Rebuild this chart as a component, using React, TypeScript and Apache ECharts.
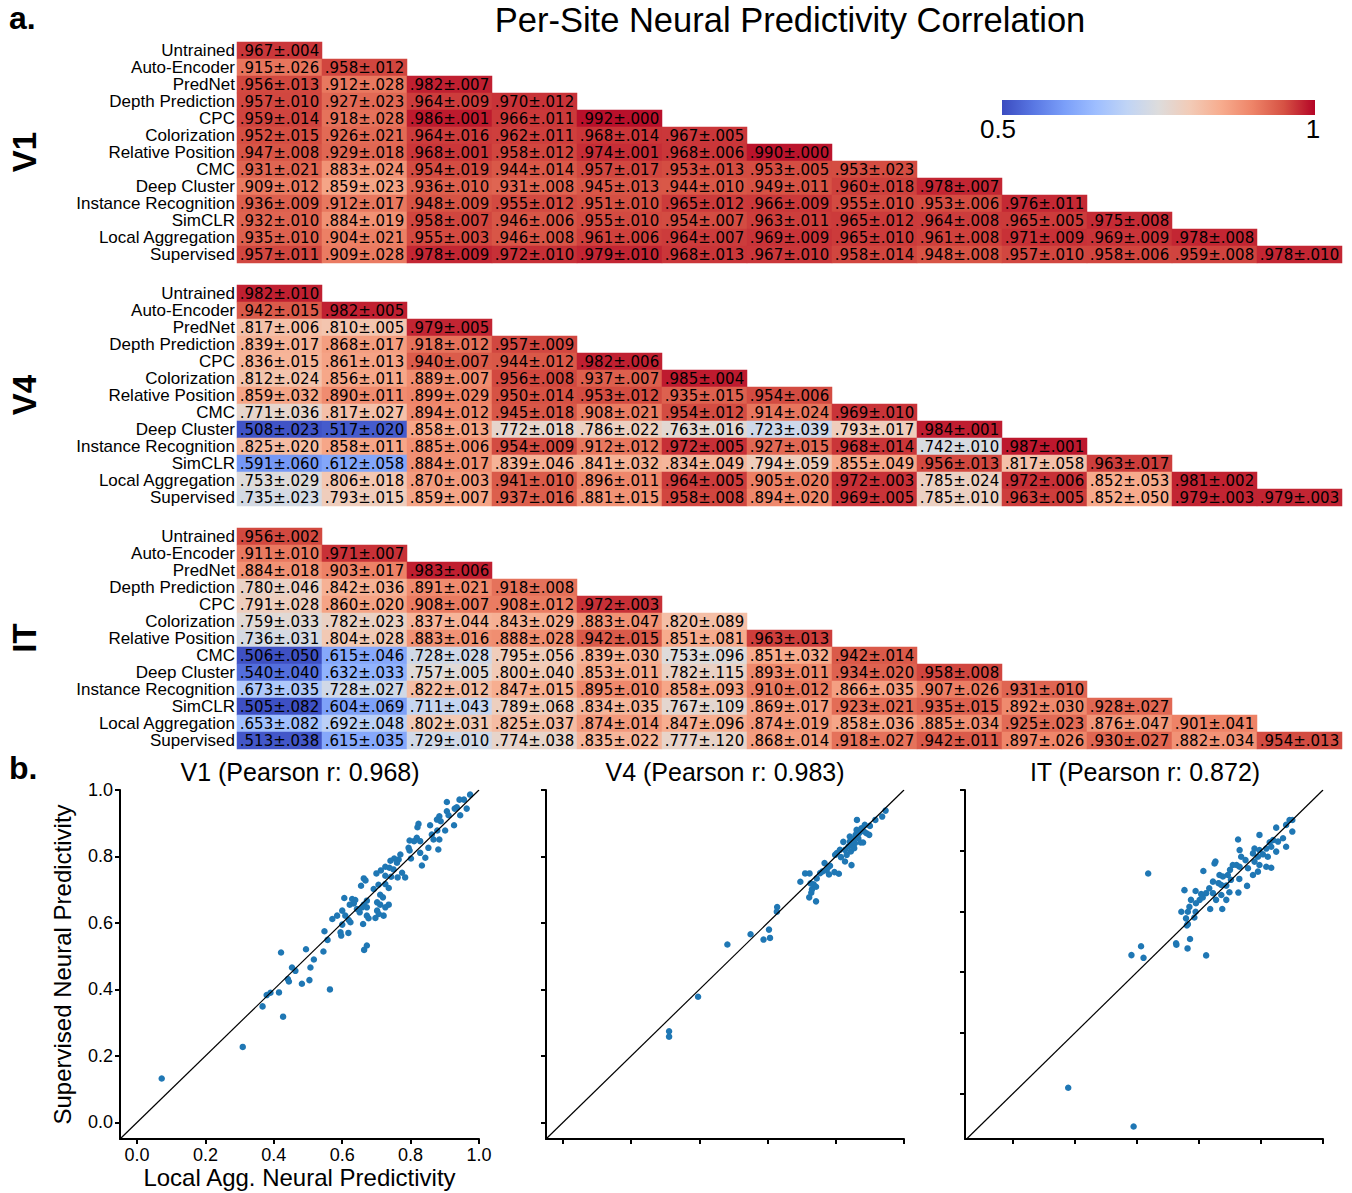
import React, { useEffect, useRef } from "react";
import * as echarts from "echarts";

const ROWS = ["Untrained", "Auto-Encoder", "PredNet", "Depth Prediction", "CPC", "Colorization", "Relative Position", "CMC", "Deep Cluster", "Instance Recognition", "SimCLR", "Local Aggregation", "Supervised"];
const COLS = ROWS.map((_, i) => String(i));

const V1_MEAN = [
  [.967],
  [.915, .958],
  [.956, .912, .982],
  [.957, .927, .964, .970],
  [.959, .918, .986, .966, .992],
  [.952, .926, .964, .962, .968, .967],
  [.947, .929, .968, .958, .974, .968, .990],
  [.931, .883, .954, .944, .957, .953, .953, .953],
  [.909, .859, .936, .931, .945, .944, .949, .960, .978],
  [.936, .912, .948, .955, .951, .965, .966, .955, .953, .976],
  [.932, .884, .958, .946, .955, .954, .963, .965, .964, .965, .975],
  [.935, .904, .955, .946, .961, .964, .969, .965, .961, .971, .969, .978],
  [.957, .909, .978, .972, .979, .968, .967, .958, .948, .957, .958, .959, .978],
];
const V1_STD = [
  [.004],
  [.026, .012],
  [.013, .028, .007],
  [.010, .023, .009, .012],
  [.014, .028, .001, .011, .000],
  [.015, .021, .016, .011, .014, .005],
  [.008, .018, .001, .012, .001, .006, .000],
  [.021, .024, .019, .014, .017, .013, .005, .023],
  [.012, .023, .010, .008, .013, .010, .011, .018, .007],
  [.009, .017, .009, .012, .010, .012, .009, .010, .006, .011],
  [.010, .019, .007, .006, .010, .007, .011, .012, .008, .005, .008],
  [.010, .021, .003, .008, .006, .007, .009, .010, .008, .009, .009, .008],
  [.011, .028, .009, .010, .010, .013, .010, .014, .008, .010, .006, .008, .010],
];
const V4_MEAN = [
  [.982],
  [.942, .982],
  [.817, .810, .979],
  [.839, .868, .918, .957],
  [.836, .861, .940, .944, .982],
  [.812, .856, .889, .956, .937, .985],
  [.859, .890, .899, .950, .953, .935, .954],
  [.771, .817, .894, .945, .908, .954, .914, .969],
  [.508, .517, .858, .772, .786, .763, .723, .793, .984],
  [.825, .858, .885, .954, .912, .972, .927, .968, .742, .987],
  [.591, .612, .884, .839, .841, .834, .794, .855, .956, .817, .963],
  [.753, .806, .870, .941, .896, .964, .905, .972, .785, .972, .852, .981],
  [.735, .793, .859, .937, .881, .958, .894, .969, .785, .963, .852, .979, .979],
];
const V4_STD = [
  [.010],
  [.015, .005],
  [.006, .005, .005],
  [.017, .017, .012, .009],
  [.015, .013, .007, .012, .006],
  [.024, .011, .007, .008, .007, .004],
  [.032, .011, .029, .014, .012, .015, .006],
  [.036, .027, .012, .018, .021, .012, .024, .010],
  [.023, .020, .013, .018, .022, .016, .039, .017, .001],
  [.020, .011, .006, .009, .012, .005, .015, .014, .010, .001],
  [.060, .058, .017, .046, .032, .049, .059, .049, .013, .058, .017],
  [.029, .018, .003, .010, .011, .005, .020, .003, .024, .006, .053, .002],
  [.023, .015, .007, .016, .015, .008, .020, .005, .010, .005, .050, .003, .003],
];
const IT_MEAN = [
  [.956],
  [.911, .971],
  [.884, .903, .983],
  [.780, .842, .891, .918],
  [.791, .860, .908, .908, .972],
  [.759, .782, .837, .843, .883, .820],
  [.736, .804, .883, .888, .942, .851, .963],
  [.506, .615, .728, .795, .839, .753, .851, .942],
  [.540, .632, .757, .800, .853, .782, .893, .934, .958],
  [.673, .728, .822, .847, .895, .858, .910, .866, .907, .931],
  [.505, .604, .711, .789, .834, .767, .869, .923, .935, .892, .928],
  [.653, .692, .802, .825, .874, .847, .874, .858, .885, .925, .876, .901],
  [.513, .615, .729, .774, .835, .777, .868, .918, .942, .897, .930, .882, .954],
];
const IT_STD = [
  [.002],
  [.010, .007],
  [.018, .017, .006],
  [.046, .036, .021, .008],
  [.028, .020, .007, .012, .003],
  [.033, .023, .044, .029, .047, .089],
  [.031, .028, .016, .028, .015, .081, .013],
  [.050, .046, .028, .056, .030, .096, .032, .014],
  [.040, .033, .005, .040, .011, .115, .011, .020, .008],
  [.035, .027, .012, .015, .010, .093, .012, .035, .026, .010],
  [.082, .069, .043, .068, .035, .109, .017, .021, .015, .030, .027],
  [.082, .048, .031, .037, .014, .096, .019, .036, .034, .023, .047, .041],
  [.038, .035, .010, .038, .022, .120, .014, .027, .011, .026, .027, .034, .013],
];

// Scatter: [Local Aggregation, Supervised] per-site neural predictivity
const V1_POINTS = [
  [0.072, 0.132], [0.309, 0.227], [0.367, 0.349], [0.427, 0.318], [0.379, 0.383], [0.390, 0.390], [0.415, 0.391], [0.421, 0.511],
  [0.441, 0.431], [0.444, 0.424], [0.453, 0.466], [0.463, 0.456], [0.482, 0.417], [0.504, 0.428], [0.507, 0.466], [0.517, 0.490],
  [0.494, 0.521], [0.545, 0.514], [0.564, 0.400], [0.557, 0.549], [0.664, 0.519], [0.672, 0.532],
  [0.974, 0.986], [0.956, 0.971], [0.943, 0.971], [0.964, 0.944], [0.935, 0.948], [0.929, 0.944], [0.906, 0.964], [0.906, 0.936],
  [0.911, 0.924], [0.945, 0.924], [0.927, 0.894], [0.884, 0.921], [0.877, 0.911], [0.888, 0.906], [0.901, 0.878], [0.857, 0.894],
  [0.862, 0.866], [0.878, 0.878], [0.884, 0.851], [0.867, 0.851], [0.823, 0.898], [0.820, 0.888], [0.818, 0.856], [0.810, 0.846],
  [0.797, 0.848], [0.794, 0.826], [0.797, 0.818], [0.828, 0.846], [0.852, 0.826], [0.881, 0.821], [0.828, 0.811], [0.843, 0.796],
  [0.833, 0.773], [0.801, 0.794], [0.770, 0.806], [0.765, 0.791], [0.752, 0.794], [0.741, 0.787], [0.760, 0.781], [0.726, 0.769],
  [0.738, 0.766], [0.750, 0.761], [0.713, 0.758], [0.700, 0.749], [0.726, 0.742], [0.743, 0.739], [0.762, 0.737], [0.784, 0.737],
  [0.775, 0.751], [0.663, 0.734], [0.668, 0.728], [0.655, 0.712], [0.692, 0.702], [0.706, 0.715], [0.726, 0.717], [0.736, 0.705],
  [0.711, 0.685], [0.719, 0.677], [0.702, 0.662], [0.711, 0.655], [0.736, 0.655], [0.726, 0.647], [0.672, 0.667], [0.663, 0.655],
  [0.672, 0.647], [0.658, 0.647], [0.638, 0.669], [0.629, 0.672], [0.634, 0.659], [0.606, 0.675], [0.622, 0.655], [0.600, 0.637],
  [0.643, 0.642], [0.651, 0.632], [0.702, 0.637], [0.707, 0.627], [0.721, 0.622], [0.672, 0.622], [0.677, 0.614], [0.697, 0.615],
  [0.661, 0.597], [0.609, 0.622], [0.585, 0.622], [0.619, 0.609], [0.624, 0.602], [0.600, 0.595], [0.571, 0.612], [0.548, 0.575],
  [0.595, 0.572], [0.618, 0.570], [0.597, 0.562],
];
const V4_POINTS = [
  [0.311, 0.274], [0.311, 0.258], [0.396, 0.378], [0.482, 0.535], [0.550, 0.566], [0.588, 0.550], [0.604, 0.580], [0.607, 0.555],
  [0.628, 0.648], [0.627, 0.634], [0.696, 0.724], [0.710, 0.749], [0.723, 0.749], [0.722, 0.677], [0.728, 0.691], [0.730, 0.701],
  [0.726, 0.719], [0.735, 0.716], [0.742, 0.709], [0.742, 0.665], [0.744, 0.734], [0.754, 0.750], [0.761, 0.755], [0.767, 0.780],
  [0.773, 0.758], [0.778, 0.768], [0.780, 0.746], [0.783, 0.772], [0.796, 0.753], [0.809, 0.748], [0.798, 0.805], [0.803, 0.810],
  [0.815, 0.798], [0.827, 0.785], [0.846, 0.774], [0.822, 0.844], [0.812, 0.820], [0.827, 0.820], [0.837, 0.830], [0.844, 0.815],
  [0.841, 0.845], [0.851, 0.852], [0.846, 0.835], [0.856, 0.840], [0.858, 0.865], [0.861, 0.880], [0.862, 0.910], [0.868, 0.870],
  [0.873, 0.842], [0.880, 0.842], [0.875, 0.885], [0.885, 0.895], [0.890, 0.870], [0.898, 0.865], [0.900, 0.892], [0.916, 0.910],
  [0.936, 0.920], [0.946, 0.938], [0.854, 0.825], [0.832, 0.805], [0.866, 0.855], [0.883, 0.875], [0.841, 0.860],
];
const IT_POINTS = [
  [0.178, 0.019], [0.389, -0.109], [0.436, 0.725], [0.382, 0.456], [0.413, 0.485], [0.421, 0.447], [0.527, 0.490], [0.563, 0.478],
  [0.623, 0.455], [0.561, 0.554],
  [0.892, 0.901], [0.901, 0.901], [0.901, 0.863], [0.881, 0.885], [0.849, 0.876], [0.795, 0.852], [0.726, 0.837], [0.881, 0.813],
  [0.871, 0.841], [0.855, 0.830], [0.839, 0.835], [0.828, 0.828], [0.817, 0.807], [0.833, 0.813], [0.849, 0.797], [0.806, 0.788],
  [0.795, 0.802], [0.779, 0.807], [0.774, 0.791], [0.790, 0.780], [0.822, 0.780], [0.779, 0.764], [0.795, 0.753], [0.817, 0.747],
  [0.833, 0.744], [0.790, 0.731], [0.774, 0.720], [0.731, 0.802], [0.736, 0.780], [0.750, 0.769], [0.731, 0.747], [0.758, 0.742],
  [0.730, 0.707], [0.755, 0.684], [0.709, 0.753], [0.721, 0.753], [0.700, 0.737], [0.693, 0.720], [0.703, 0.704], [0.677, 0.715],
  [0.666, 0.720], [0.672, 0.687], [0.688, 0.685], [0.698, 0.663], [0.727, 0.662], [0.650, 0.758], [0.653, 0.764], [0.614, 0.733],
  [0.645, 0.698], [0.663, 0.693], [0.633, 0.676], [0.623, 0.660], [0.645, 0.660], [0.672, 0.654], [0.688, 0.638], [0.655, 0.638],
  [0.607, 0.657], [0.602, 0.638], [0.589, 0.667], [0.612, 0.646], [0.553, 0.670], [0.574, 0.638], [0.590, 0.627], [0.569, 0.615],
  [0.543, 0.599], [0.564, 0.599], [0.589, 0.599], [0.636, 0.608], [0.675, 0.608], [0.558, 0.577], [0.585, 0.580], [0.564, 0.558],
  [0.571, 0.509], [0.526, 0.495],
];

const PANELS = [
  { name: "V1", r: "0.968", mean: V1_MEAN, std: V1_STD, points: V1_POINTS, xMin: -0.05, yMin: -0.05 },
  { name: "V4", r: "0.983", mean: V4_MEAN, std: V4_STD, points: V4_POINTS, xMin: -0.05, yMin: -0.05 },
  { name: "IT", r: "0.872", mean: IT_MEAN, std: IT_STD, points: IT_POINTS, xMin: -0.155, yMin: -0.15 },
];
const TICKS = [0, 0.2, 0.4, 0.6, 0.8, 1.0];
const COOLWARM = ["#3b4cc0", "#5977e3", "#7b9ff9", "#9ebeff", "#c0d4f5", "#dddcdc", "#f2cbb7", "#f7ac8e", "#ee8468", "#d65244", "#b40426"];

const SANS = '"Liberation Sans", Arial, Helvetica, sans-serif';
const fmt = (v: number) => v.toFixed(3).replace(/^0/, "");

function heatData(mean: number[][], std: number[][]) {
  const out: any[] = [];
  mean.forEach((row, r) => row.forEach((v, c) => out.push({ value: [c, r, v], std: std[r][c] })));
  return out;
}

export default function App() {
  const ref = useRef<HTMLDivElement>(null);
  useEffect(() => {
    document.body.style.margin = "0";
    const chart = echarts.init(ref.current!, null, { renderer: "svg" });
    const heatTops = [42, 285, 528];
    const scatterGrids = [
      { left: 120, top: 790, width: 359, height: 349 },
      { left: 546, top: 790, width: 358, height: 349 },
      { left: 965, top: 790, width: 358, height: 349 },
    ];
    const grids: any[] = [];
    const xAxes: any[] = [];
    const yAxes: any[] = [];
    const series: any[] = [];

    PANELS.forEach((p, i) => {
      grids.push({ left: 237, top: heatTops[i], width: 1105, height: 221, containLabel: false });
      xAxes.push({ type: "category", gridIndex: i, data: COLS, show: false });
      yAxes.push({
        type: "category", gridIndex: i, data: ROWS, inverse: true,
        axisLine: { show: false }, axisTick: { show: false }, splitLine: { show: false },
        axisLabel: { interval: 0, fontSize: 17, lineHeight: 16, color: "#000", margin: 2, fontFamily: SANS },
      });
      series.push({
        type: "heatmap", xAxisIndex: i, yAxisIndex: i, data: heatData(p.mean, p.std),
        label: {
          show: true, fontFamily: '"DejaVu Sans", sans-serif', fontSize: 15, lineHeight: 16, color: "#000",
          formatter: (q: any) => fmt(q.value[2]) + "±" + fmt(q.data.std),
        },
        emphasis: { disabled: true },
      });
    });

    PANELS.forEach((p, i) => {
      const gi = i + 3;
      grids.push({ ...scatterGrids[i], containLabel: false });
      const first = i === 0;
      xAxes.push({
        type: "value", gridIndex: gi, min: p.xMin, max: 1,
        axisLine: { show: true, onZero: false, lineStyle: { color: "#000", width: 2 } },
        axisTick: { show: true, inside: false, length: 5, lineStyle: { color: "#000", width: 2 }, customValues: TICKS },
        axisLabel: { show: first, customValues: TICKS, formatter: (v: number) => v.toFixed(1), fontSize: 18, color: "#000", fontFamily: SANS, margin: 7 },
        splitLine: { show: false },
        name: first ? "Local Agg. Neural Predictivity" : "", nameLocation: "middle", nameGap: 26,
        nameTextStyle: { fontSize: 24, color: "#000", fontFamily: SANS },
      });
      yAxes.push({
        type: "value", gridIndex: gi, min: p.yMin, max: 1,
        axisLine: { show: true, onZero: false, lineStyle: { color: "#000", width: 2 } },
        axisTick: { show: true, inside: false, length: 5, lineStyle: { color: "#000", width: 2 }, customValues: TICKS },
        axisLabel: { show: first, customValues: TICKS, formatter: (v: number) => v.toFixed(1), fontSize: 18, color: "#000", fontFamily: SANS, margin: 7 },
        splitLine: { show: false },
        name: first ? "Supervised Neural Predictivity" : "", nameLocation: "middle", nameGap: 46, nameRotate: 90,
        nameTextStyle: { fontSize: 24, color: "#000", fontFamily: SANS },
      });
      series.push({
        type: "scatter", xAxisIndex: gi, yAxisIndex: gi, data: p.points, symbolSize: 6.5,
        itemStyle: { color: "#1f77b4", opacity: 1 }, z: 2, silent: true,
      });
      const lo = Math.max(p.xMin, p.yMin);
      series.push({
        type: "line", xAxisIndex: gi, yAxisIndex: gi, data: [[lo, lo], [1, 1]], symbol: "none",
        lineStyle: { color: "#000", width: 1.2 }, z: 3, silent: true,
      });
    });

    const txt = (text: string, x: number, y: number, size: number, opts: any = {}) => ({
      type: "text", x, y, rotation: opts.rotation || 0,
      style: {
        text, fill: "#000", fontSize: size, fontFamily: SANS, fontWeight: opts.bold ? "bold" : "normal",
        align: opts.align || "left", verticalAlign: "middle", textAlign: opts.align || "left", textVerticalAlign: "middle",
      },
    });

    const cbColors = COOLWARM.map((c, k) => ({ offset: k / (COOLWARM.length - 1), color: c }));
    const graphic: any[] = [
      txt("a.", 9, 18, 32, { bold: true }),
      txt("Per-Site Neural Predictivity Correlation", 790, 20, 34.5, { align: "center" }),
      txt("b.", 9, 768, 32, { bold: true }),
      txt("V1", 24, 152, 33, { bold: true, align: "center", rotation: Math.PI / 2 }),
      txt("V4", 24, 395, 33, { bold: true, align: "center", rotation: Math.PI / 2 }),
      txt("IT", 24, 638, 33, { bold: true, align: "center", rotation: Math.PI / 2 }),
      {
        type: "rect", shape: { x: 1002, y: 100, width: 313, height: 15 },
        style: { fill: new echarts.graphic.LinearGradient(0, 0, 1, 0, cbColors) },
      },
      txt("0.5", 998, 129, 26, { align: "center" }),
      txt("1", 1313, 129, 26, { align: "center" }),
      txt(`V1 (Pearson r: ${PANELS[0].r})`, 300, 772, 25, { align: "center" }),
      txt(`V4 (Pearson r: ${PANELS[1].r})`, 725, 772, 25, { align: "center" }),
      txt(`IT (Pearson r: ${PANELS[2].r})`, 1145, 772, 25, { align: "center" }),
    ];

    chart.setOption({
      animation: false,
      backgroundColor: "#fff",
      grid: grids,
      xAxis: xAxes,
      yAxis: yAxes,
      visualMap: {
        type: "continuous", min: 0.5, max: 1, seriesIndex: [0, 1, 2], dimension: 2, show: false,
        inRange: { color: COOLWARM },
      },
      series,
      graphic,
    });
    return () => chart.dispose();
  }, []);
  return <div ref={ref} style={{ width: 1352, height: 1193 }} />;
}
